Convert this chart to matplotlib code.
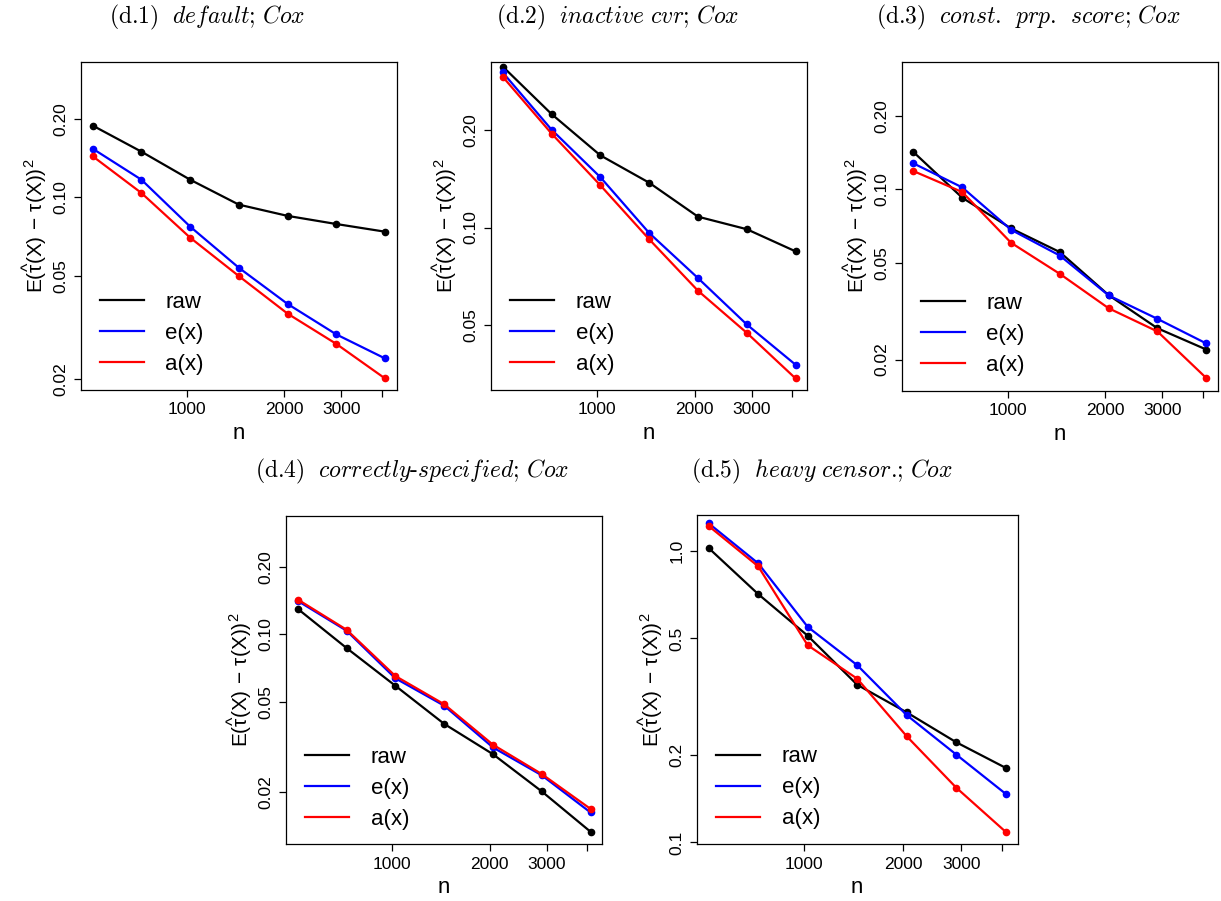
import numpy as np
import matplotlib
matplotlib.use("Agg")
import matplotlib.pyplot as plt

plt.rcParams['font.family'] = ['Liberation Sans', 'DejaVu Sans']
plt.rcParams['mathtext.fontset'] = 'custom'
plt.rcParams['mathtext.rm'] = 'Liberation Sans'
plt.rcParams['mathtext.it'] = 'Liberation Sans:italic'

# sample sizes (2^9 ... 2^12, sqrt(2) steps)
n = [512, 724, 1024, 1448, 2048, 2896, 4096]

# (d.1) default
raw1 = [0.189, 0.150, 0.117, 0.0938, 0.0849, 0.0790, 0.0738]
ex1 = [0.154, 0.117, 0.0772, 0.0536, 0.0389, 0.0297, 0.0240]
ax1 = [0.144, 0.104, 0.0700, 0.0498, 0.0357, 0.0273, 0.0201]

# (d.2) inactive cvr
raw2 = [0.314, 0.224, 0.167, 0.1375, 0.108, 0.0988, 0.0844]
ex2 = [0.301, 0.2005, 0.143, 0.0962, 0.0698, 0.0502, 0.0377]
ax2 = [0.292, 0.195, 0.135, 0.0920, 0.0638, 0.0473, 0.0342]

# (d.3) const. prp. score
raw3 = [0.1425, 0.0925, 0.0692, 0.0553, 0.0368, 0.0269, 0.0220]
ex3 = [0.128, 0.102, 0.0683, 0.0535, 0.0367, 0.0294, 0.0233]
ax3 = [0.119, 0.0976, 0.0604, 0.0450, 0.0325, 0.0261, 0.0168]

# (d.4) correctly-specified
raw4 = [0.130, 0.0871, 0.0592, 0.0401, 0.0294, 0.0201, 0.0133]
ex4 = [0.141, 0.104, 0.0639, 0.0483, 0.0315, 0.0237, 0.0162]
ax4 = [0.143, 0.105, 0.0654, 0.0490, 0.0324, 0.0240, 0.0168]

# (d.5) heavy censor.
raw5 = [1.021, 0.710, 0.511, 0.347, 0.279, 0.2204, 0.180]
ex5 = [1.241, 0.905, 0.548, 0.405, 0.273, 0.200, 0.1466]
ax5 = [1.215, 0.884, 0.474, 0.364, 0.231, 0.154, 0.1086]

titles = [r"$\text{(d.1)}\ \ \mathit{default}\text{;}\ \mathit{Cox}$",
          r"$\text{(d.2)}\ \ \mathit{inactive\ cvr}\text{;}\ \mathit{Cox}$",
          r"$\text{(d.3)}\ \ \mathit{const}\text{.}\ \ \mathit{prp}\text{.}\ \ \mathit{score}\text{;}\ \mathit{Cox}$",
          r"$\text{(d.4)}\ \ \mathit{correctly}\text{-}\mathit{specified}\text{;}\ \mathit{Cox}$",
          r"$\text{(d.5)}\ \ \mathit{heavy\ censor}\text{.;}\ \mathit{Cox}$"]

yticks_small = [0.02, 0.05, 0.10, 0.20]
ylabels_small = ["0.02", "0.05", "0.10", "0.20"]
yticks_mid = [0.05, 0.10, 0.20]
ylabels_mid = ["0.05", "0.10", "0.20"]
yticks_big = [0.1, 0.2, 0.5, 1.0]
ylabels_big = ["0.1", "0.2", "0.5", "1.0"]

xticks = [1000, 2000, 3000, 4000]
xlabels = ["1000", "2000", "3000", ""]

W, H = 1221, 901
fig = plt.figure(figsize=(W / 100, H / 100), dpi=100)

# pixel boxes (left, top, right, bottom)
boxes = [(81, 61.7, 396.7, 390), (491, 61.7, 807.3, 390), (901.7, 61.7, 1218, 390.7),
         (286, 515.7, 602.3, 844.3), (696.7, 515, 1017.7, 844.3)]
title_pos = [(207, 17), (617, 17), (1028, 17), (412, 471), (822, 471)]
ylims = [(0.01814, 0.333), (0.0315, 0.325), (0.0149, 0.335), (0.0117, 0.337), (0.0985, 1.325)]
data = [(raw1, ex1, ax1), (raw2, ex2, ax2), (raw3, ex3, ax3), (raw4, ex4, ax4), (raw5, ex5, ax5)]
yt = [(yticks_small, ylabels_small), (yticks_mid, ylabels_mid), (yticks_small, ylabels_small),
      (yticks_small, ylabels_small), (yticks_big, ylabels_big)]

ylab = r"$\mathrm{E(\widehat{\tau}(X)\,-\,\tau(X))^2}$"

for i in range(5):
    l, t, r, b = boxes[i]
    ax = fig.add_axes([l / W, 1 - b / H, (r - l) / W, (b - t) / H])
    raw, ex, axx = data[i]
    ax.plot(n, raw, color='black', lw=1.6, marker='o', ms=4.5, label='raw')
    ax.plot(n, ex, color='#0000FF', lw=1.6, marker='o', ms=4.5, label='e(x)')
    ax.plot(n, axx, color='#FF0000', lw=1.6, marker='o', ms=4.5, label='a(x)')
    ax.set_xscale('log')
    ax.set_yscale('log')
    ax.set_xlim(471, 4452)
    ax.set_ylim(*ylims[i])
    ax.minorticks_off()
    ax.set_xticks(xticks)
    ax.set_xticklabels(xlabels)
    ax.set_yticks(yt[i][0])
    ax.set_yticklabels(yt[i][1])
    ax.tick_params(axis='both', direction='out', length=5, width=0.9, labelsize=12.5, pad=4)
    ax.tick_params(axis='y', labelrotation=90)
    for lab in ax.get_yticklabels():
        lab.set_va('center')
    for s in ax.spines.values():
        s.set_linewidth(0.9)
    ax.set_xlabel('n', fontsize=16, labelpad=4)
    ax.set_ylabel(ylab, fontsize=15, labelpad=3)
    ax.legend(loc='lower left', bbox_to_anchor=(0.06, 0.045), frameon=False, fontsize=16,
              handlelength=2.0, handletextpad=0.95, labelspacing=0.45, borderpad=0,
              borderaxespad=0)
    leg = ax.get_legend()
    for h in leg.get_lines():
        h.set_marker('')
        h.set_linewidth(1.6)
    fig.text(title_pos[i][0] / W, 1 - title_pos[i][1] / H, titles[i], ha='center', va='center',
             fontsize=17, math_fontfamily='cm')

fig.savefig('out.png', dpi=100)
